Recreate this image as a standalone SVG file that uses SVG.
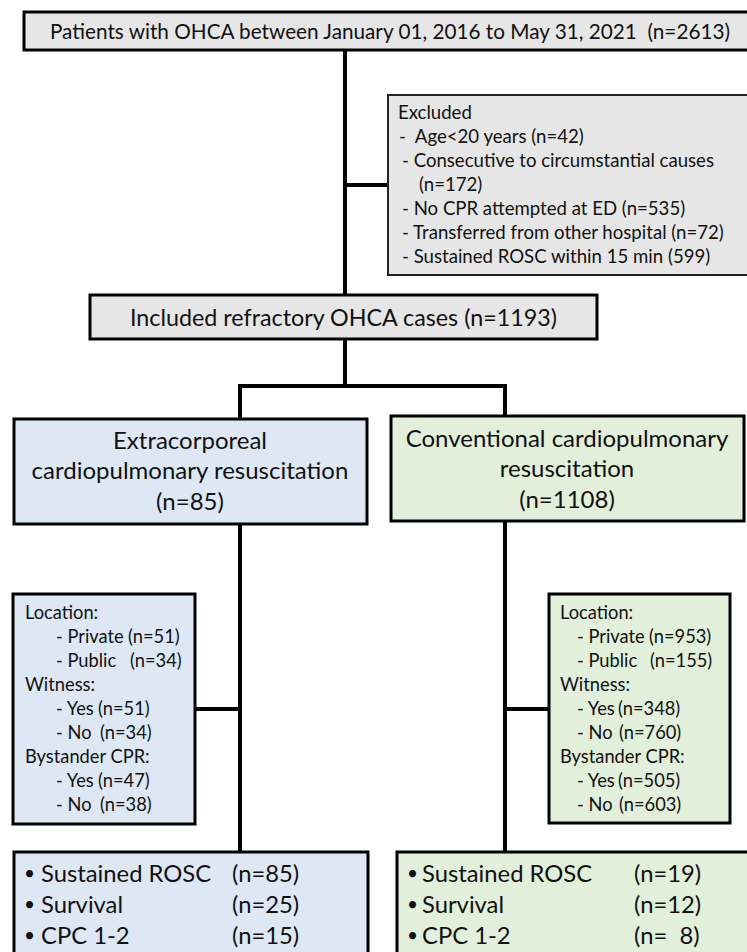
<svg xmlns="http://www.w3.org/2000/svg" width="747" height="952" viewBox="0 0 747 952">
<style>
text{font-family:Lato,"Open Sans","Liberation Sans",sans-serif;fill:#111}
.gray{fill:#e7e6e6}
.blue{fill:#dee8f4}
.green{fill:#e2efda}
.b3{stroke:#000;stroke-width:3}
.b2{stroke:#222;stroke-width:2}
.conn{fill:none;stroke:#000;stroke-width:4;stroke-linejoin:miter}
.f22{font-size:21.2px}
.f24{font-size:24px}
.f19{font-size:18.6px}
.fs{font-size:18.3px}
.f25{font-size:23.8px}
.bul{font-size:19px}
</style>
<g id="connectors">
<path class="conn" d="M345 50V295M345 185H388M345 339V386M240 419V386H505V416M240 524V852M505 521V852M195 709H240M505 709H549"/>
</g>
<g id="n_total">
<rect class="gray b3" x="24" y="12" width="730" height="38"/>
<text class="f22" x="50" y="39" textLength="680" lengthAdjust="spacingAndGlyphs" xml:space="preserve">Patients with OHCA between January 01, 2016 to May 31, 2021  (n=2613)</text>
</g>
<g id="n_excluded">
<rect class="gray b2" x="388" y="95" width="365" height="180"/>
<text class="f19" x="398" y="119">Excluded</text>
<text class="f19" x="399" y="143" xml:space="preserve">-  Age&lt;20 years (n=42)</text>
<text class="f19" x="402" y="167">- Consecutive to circumstantial causes</text>
<text class="f19" x="419" y="191">(n=172)</text>
<text class="f19" x="402" y="215">- No CPR attempted at ED (n=535)</text>
<text class="f19" x="402" y="239">- Transferred from other hospital (n=72)</text>
<text class="f19" x="402" y="263">- Sustained ROSC within 15 min (599)</text>
</g>
<g id="n_included">
<rect class="gray b3" x="90" y="295" width="507" height="44"/>
<text class="f24" x="130" y="326" textLength="427" lengthAdjust="spacingAndGlyphs">Included refractory OHCA cases (n=1193)</text>
</g>
<g id="n_ecpr">
<rect class="blue b3" x="14" y="419" width="353" height="105"/>
<text class="f24" x="190" y="449" text-anchor="middle">Extracorporeal</text>
<text class="f24" x="190" y="479" text-anchor="middle">cardiopulmonary resuscitation</text>
<text class="f24" x="190" y="510" text-anchor="middle">(n=85)</text>
</g>
<g id="n_ccpr">
<rect class="green b3" x="391" y="416" width="353" height="105"/>
<text class="f24" x="567" y="447" text-anchor="middle">Conventional cardiopulmonary</text>
<text class="f24" x="567" y="477" text-anchor="middle">resuscitation</text>
<text class="f24" x="567" y="508" text-anchor="middle">(n=1108)</text>
</g>
<g id="n_ecpr_char">
<rect class="blue b3" x="13" y="594" width="182" height="230"/>
<text class="fs" x="25" y="619">Location:</text>
<text class="fs" x="56" y="643">- Private <tspan x="128">(n=51)</tspan></text>
<text class="fs" x="56" y="667">- Public <tspan x="130">(n=34)</tspan></text>
<text class="fs" x="25" y="691">Witness:</text>
<text class="fs" x="56" y="715">- Yes <tspan x="98">(n=51)</tspan></text>
<text class="fs" x="56" y="739">- No <tspan x="100">(n=34)</tspan></text>
<text class="fs" x="25" y="763">Bystander CPR:</text>
<text class="fs" x="56" y="787">- Yes <tspan x="98">(n=47)</tspan></text>
<text class="fs" x="56" y="811">- No <tspan x="100">(n=38)</tspan></text>
</g>
<g id="n_ccpr_char">
<rect class="green b3" x="549" y="594" width="181" height="229"/>
<text class="fs" x="560" y="619">Location:</text>
<text class="fs" x="577" y="643">- Private <tspan x="649">(n=953)</tspan></text>
<text class="fs" x="577" y="667">- Public <tspan x="650">(n=155)</tspan></text>
<text class="fs" x="560" y="691">Witness:</text>
<text class="fs" x="577" y="715">- Yes <tspan x="618">(n=348)</tspan></text>
<text class="fs" x="577" y="739">- No <tspan x="619">(n=760)</tspan></text>
<text class="fs" x="560" y="763">Bystander CPR:</text>
<text class="fs" x="577" y="787">- Yes <tspan x="618">(n=505)</tspan></text>
<text class="fs" x="577" y="811">- No <tspan x="619">(n=603)</tspan></text>
</g>
<g id="n_ecpr_out">
<rect class="blue b3" x="14" y="852" width="354" height="110"/>
<text class="f25" x="24" y="880"><tspan class="bul">•</tspan><tspan x="41" y="882">Sustained ROSC</tspan><tspan x="232">(n=85)</tspan></text>
<text class="f25" x="24" y="911"><tspan class="bul">•</tspan><tspan x="41" y="913">Survival</tspan><tspan x="232">(n=25)</tspan></text>
<text class="f25" x="24" y="942"><tspan class="bul">•</tspan><tspan x="41" y="944">CPC 1-2</tspan><tspan x="232">(n=15)</tspan></text>
</g>
<g id="n_ccpr_out">
<rect class="green b3" x="397" y="852" width="360" height="110"/>
<text class="f25" x="407" y="880"><tspan class="bul">•</tspan><tspan x="422" y="882">Sustained ROSC</tspan><tspan x="634">(n=19)</tspan></text>
<text class="f25" x="407" y="911"><tspan class="bul">•</tspan><tspan x="422" y="913">Survival</tspan><tspan x="634">(n=12)</tspan></text>
<text class="f25" x="407" y="942" xml:space="preserve"><tspan class="bul">•</tspan><tspan x="422" y="944">CPC 1-2</tspan><tspan x="634">(n=  8)</tspan></text>
</g>
</svg>
